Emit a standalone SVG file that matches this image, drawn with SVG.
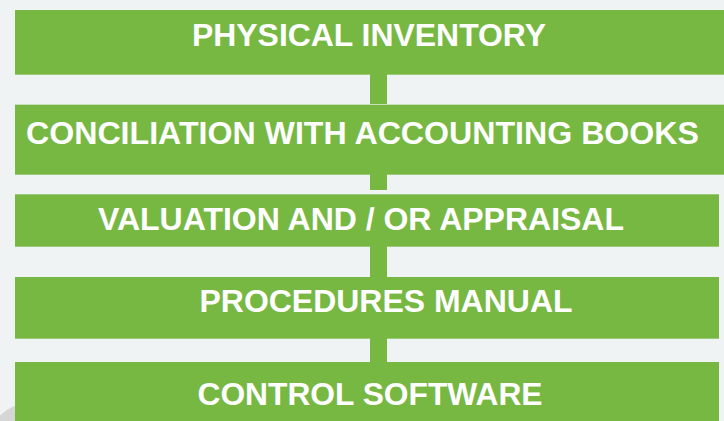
<svg xmlns="http://www.w3.org/2000/svg" width="724" height="421" viewBox="0 0 724 421">
<style>
.bg{fill:#eff3f4}
.box{fill:#77b843}
.conn{fill:#77b843}
.lbl{font-family:"Liberation Sans",Arial,sans-serif;font-weight:bold;font-size:32px;fill:#ffffff;text-anchor:middle}
</style>
<rect class="bg" x="0" y="0" width="724" height="421"/>
<circle cx="30" cy="445" r="42" fill="#d6d6d6"/>
<g id="connectors">
<rect class="conn" x="370" y="74" width="17" height="30"/>
<rect class="conn" x="370" y="174" width="17" height="16"/>
<rect class="conn" x="370" y="246" width="17" height="31"/>
<rect class="conn" x="370" y="338" width="17" height="24"/>
</g>
<g id="node1">
<rect class="box" x="15" y="10" width="709" height="64.7"/>
<text class="lbl" x="369" y="45.7" textLength="354" lengthAdjust="spacingAndGlyphs">PHYSICAL INVENTORY</text>
</g>
<g id="node2">
<rect class="box" x="15" y="104.7" width="709" height="70"/>
<text class="lbl" x="362.5" y="143.7" textLength="673" lengthAdjust="spacingAndGlyphs">CONCILIATION WITH ACCOUNTING BOOKS</text>
</g>
<g id="node3">
<rect class="box" x="15" y="194.3" width="704" height="52.4"/>
<text class="lbl" x="361" y="230" textLength="526" lengthAdjust="spacingAndGlyphs">VALUATION AND / OR APPRAISAL</text>
</g>
<g id="node4">
<rect class="box" x="15" y="277" width="704" height="61.7"/>
<text class="lbl" x="386" y="312.3" textLength="373" lengthAdjust="spacingAndGlyphs">PROCEDURES MANUAL</text>
</g>
<g id="node5">
<rect class="box" x="15" y="362" width="704" height="59"/>
<text class="lbl" x="370" y="405" textLength="345" lengthAdjust="spacingAndGlyphs">CONTROL SOFTWARE</text>
</g>
</svg>
